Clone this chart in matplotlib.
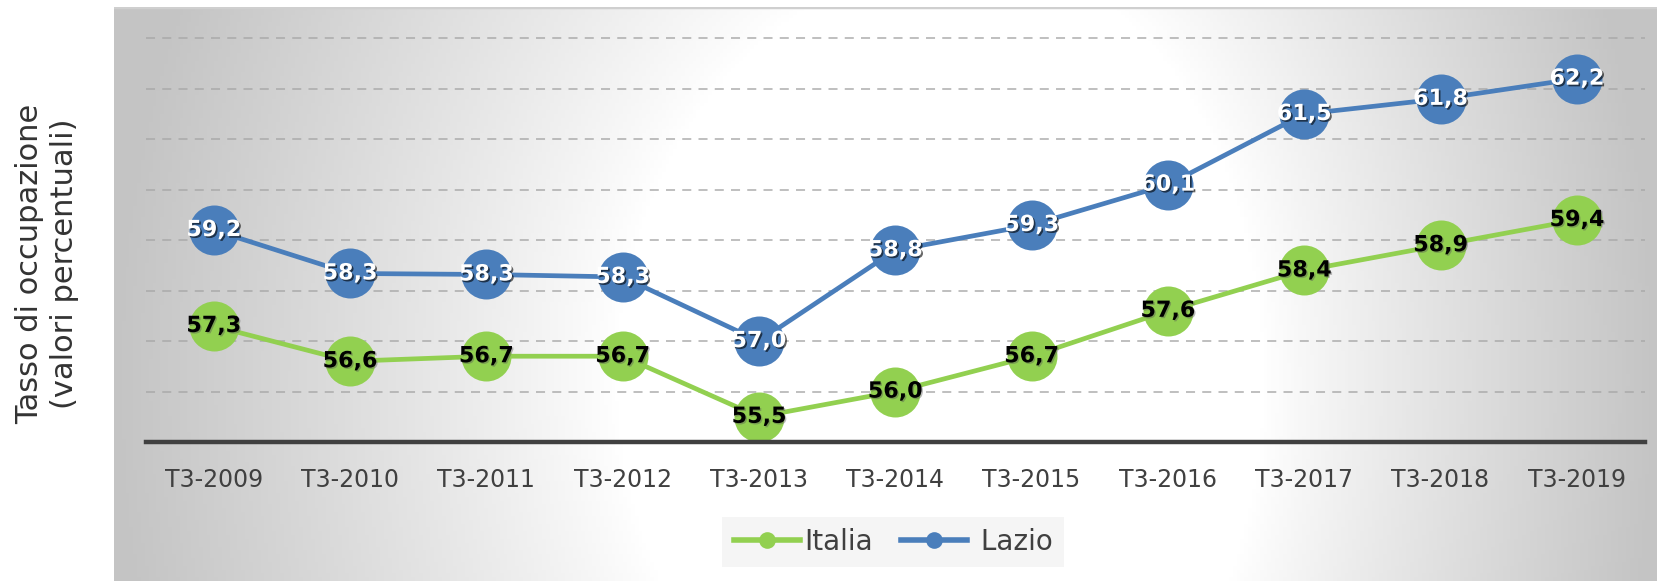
#!/usr/bin/env python3
"""Tasso di occupazione T3, Italia vs Lazio (2009-2019)."""

import matplotlib

matplotlib.use("Agg")
import matplotlib.patheffects as pe
import matplotlib.pyplot as plt
import numpy as np
from matplotlib.lines import Line2D

# ── Data ──
periods = ["T3-2009", "T3-2010", "T3-2011", "T3-2012", "T3-2013", "T3-2014",
           "T3-2015", "T3-2016", "T3-2017", "T3-2018", "T3-2019"]
italia = [57.3, 56.6, 56.7, 56.7, 55.5, 56.0, 56.7, 57.6, 58.4, 58.9, 59.4]
lazio = [59.2, 58.34, 58.32, 58.27, 57.0, 58.8, 59.3, 60.1, 61.5, 61.8, 62.2]
series_names = ["Italia", "Lazio"]
y_title = "Tasso di occupazione\n(valori percentuali)"

GREEN = "#92d050"
BLUE = "#4a7ebb"
W, H = 1657, 581


def fmt_it(v: float) -> str:
    """58.3 -> '58,3'"""
    return f"{v:.1f}".replace(".", ",")


def gradient_image(nx: int = 400, ny: int = 150) -> np.ndarray:
    """Elliptical white-to-gray path gradient, like the Office chart fill."""
    x0, x1, y0, y1 = 114, W, 7, H
    cx, cy = 980.0, 380.0
    xs = np.linspace(x0, x1, nx)
    ys = np.linspace(y0, y1, ny)
    X, Y = np.meshgrid(xs, ys)
    ax_l, ax_r, ay = cx - x0, x1 - cx, 1015.0
    dx = np.where(X < cx, (cx - X) / ax_l, (X - cx) / ax_r)
    dy = (Y - cy) / ay
    r = np.sqrt(dx ** 2 + dy ** 2)
    r0 = 0.42
    t = np.clip((r - r0) / (1.0 - r0), 0, 1) ** 0.9
    g = 1.0 - 0.23 * t
    return np.dstack([g, g, g])


def main():
    fig = plt.figure(figsize=(W / 100, H / 100), dpi=100)

    # ── Chart area background ──
    bg = fig.add_axes([114 / W, 0, 1 - 114 / W, (H - 7) / H])
    bg.imshow(gradient_image(), aspect="auto", extent=[0, 1, 0, 1], origin="upper")
    bg.axhline(1.0, color="#cfcfcf", lw=2.5)
    bg.set_axis_off()

    # ── Plot area ──
    left, right, top, bottom = 145.5, 1645, 7.5, 442
    ax = fig.add_axes([left / W, (H - bottom) / H, (right - left) / W, (bottom - top) / H])
    ax.set_facecolor("none")
    x = np.arange(len(periods))
    y_min = 55.0
    px_per_unit = 50.46
    ax.set_ylim(y_min, y_min + (bottom - top) / px_per_unit)
    ax.set_xlim(-0.5, len(periods) - 0.5)

    for g in range(56, 64):
        ax.axhline(g, color="#a8a8a8", lw=1.3, ls=(0, (5, 4)), alpha=0.8, zorder=1)

    ax.plot(x, italia, color=GREEN, lw=3.4, marker="o", ms=36, mec="none", zorder=3)
    ax.plot(x, lazio, color=BLUE, lw=3.4, marker="o", ms=36, mec="none", zorder=3)

    # data labels
    for xi, v in zip(x, italia):
        ax.text(xi, v, fmt_it(v), ha="center", va="center", fontsize=16,
                fontweight="bold", color="black", zorder=5,
                path_effects=[pe.withSimplePatchShadow(offset=(1, -1), shadow_rgbFace="#555555", alpha=0.4)])
    for xi, v in zip(x, lazio):
        ax.text(xi, v, fmt_it(v), ha="center", va="center", fontsize=16,
                fontweight="bold", color="white", zorder=5,
                path_effects=[pe.withSimplePatchShadow(offset=(1.2, -1.2), shadow_rgbFace="black", alpha=0.6)])

    # axes styling
    for s in ["top", "right", "left"]:
        ax.spines[s].set_visible(False)
    ax.spines["bottom"].set_color("#404040")
    ax.spines["bottom"].set_linewidth(3.2)
    ax.spines["bottom"].set_zorder(4)
    ax.set_yticks([])
    ax.set_xticks(x)
    ax.set_xticklabels(periods, fontsize=17, color="#404040")
    ax.tick_params(axis="x", length=0, pad=19)

    fig.text(47 / W, 1 - 264 / H, y_title, rotation=90, ha="center", va="center",
             fontsize=22, color="#333333", linespacing=1.25)

    # ── Legend ──
    handles = [
        Line2D([], [], color=GREEN, lw=4, marker="o", ms=12, mec="none"),
        Line2D([], [], color=BLUE, lw=4, marker="o", ms=12, mec="none"),
    ]
    leg = fig.legend(handles, [series_names[0], " " + series_names[1]], loc="center",
                     bbox_to_anchor=(893 / W, 1 - 541.7 / H), ncol=2, fontsize=20,
                     frameon=True, fancybox=False, handlelength=2.4, handletextpad=0.15,
                     columnspacing=1.0, borderpad=0.4, borderaxespad=0)
    leg.get_frame().set_facecolor("#f5f5f5")
    leg.get_frame().set_edgecolor("none")
    leg.get_frame().set_alpha(1)
    for t in leg.get_texts():
        t.set_color("#404040")

    fig.savefig("out.png", dpi=100)
    plt.close(fig)


if __name__ == "__main__":
    main()
